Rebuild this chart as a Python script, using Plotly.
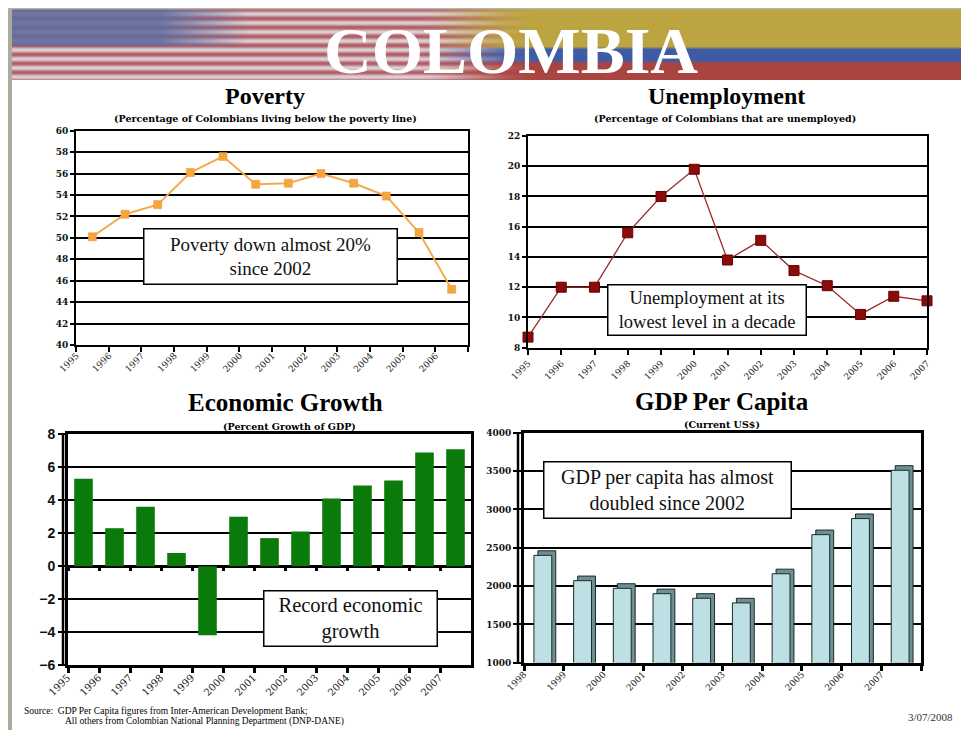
import base64, struct, zlib
import numpy as np
import plotly.graph_objects as go

# ---------------- data ----------------
poverty_years = [str(y) for y in range(1995, 2007)]
poverty_pct = [50.1, 52.2, 53.1, 56.1, 57.6, 55.0, 55.1, 56.0, 55.1, 53.9, 50.5, 45.2]

unemp_years = [str(y) for y in range(1995, 2008)]
unemp_pct = [8.7, 12.0, 12.0, 15.6, 18.0, 19.8, 13.8, 15.1, 13.1, 12.1, 10.2, 11.4, 11.1]

growth_years = [str(y) for y in range(1995, 2008)]
growth_pct = [5.3, 2.3, 3.6, 0.8, -4.2, 3.0, 1.7, 2.1, 4.1, 4.9, 5.2, 6.9, 7.1]

gdp_years = [str(y) for y in range(1998, 2008)]
gdp_usd = [2400, 2070, 1970, 1900, 1840, 1780, 2160, 2670, 2880, 3510]

# ---------------- page geometry helpers ----------------
# the page body has an 8px margin, so the figure is placed at (8, 8) in the window
OFF = 8
W, H = 969 - OFF, 730 - OFF
def px(x):
    return (x - OFF) / W
def py(y):
    return 1 - (y - OFF) / H

SERIF = "Liberation Serif, Times New Roman, serif"
TICKSERIF = "DejaVu Serif, serif"

# ---------------- banner image (decorative) ----------------
def png_uri(arr):
    h, w, _ = arr.shape
    raw = b"".join(b"\x00" + arr[i].tobytes() for i in range(h))
    def chunk(tag, data):
        c = struct.pack(">I", len(data)) + tag + data
        return c + struct.pack(">I", zlib.crc32(tag + data) & 0xffffffff)
    png = b"\x89PNG\r\n\x1a\n" + chunk(b"IHDR", struct.pack(">IIBBBBB", w, h, 8, 2, 0, 0, 0)) \
        + chunk(b"IDAT", zlib.compress(raw, 9)) + chunk(b"IEND", b"")
    return "data:image/png;base64," + base64.b64encode(png).decode()

BX0, BY0, BW, BH = 12, 9, 957, 71
Xs = np.arange(BW)[None, :].astype(float) + BX0
Ys = np.arange(BH)[:, None].astype(float) + BY0
red = np.array([179, 92, 100.0]); white = np.array([220, 210, 214.0]); cblue = np.array([96, 108, 158.0])
s = (0.5 + 0.5 * np.cos(2 * np.pi * (Ys - BY0) / 9.0))[..., None]
s = np.broadcast_to(s, (BH, BW, 1))
stripes = s * red + (1 - s) * white
cx = np.clip((250 - Xs) / 90, 0, 1)
cy = np.clip((47 - Ys) / 3, 0, 1)
c = (cx * cy)[..., None]
canton = 0.88 * cblue + 0.12 * stripes
us = c * canton + (1 - c) * stripes
yel = np.array([188, 164, 64.0]); cbl = np.array([62, 92, 166.0]); crd = np.array([170, 68, 64.0])
a1 = np.clip((Ys - 46) / 3, 0, 1)[..., None]
a2 = np.clip((Ys - 60) / 3, 0, 1)[..., None]
co = (1 - a1) * yel + a1 * ((1 - a2) * cbl + a2 * crd)
co = np.broadcast_to(co, (BH, BW, 3))
t = np.clip((Xs - 410) / 130, 0, 1)
t = (t * t * (3 - 2 * t))[..., None]
banner = np.ascontiguousarray(((1 - t) * us + t * co).clip(0, 255).astype(np.uint8))
banner_src = png_uri(banner)

# ---------------- figure ----------------
fig = go.Figure()

fig.add_trace(go.Scatter(
    x=poverty_years, y=poverty_pct, mode="lines+markers", xaxis="x", yaxis="y",
    line=dict(color="#F4AA50", width=2),
    marker=dict(symbol="square", size=8, color="#F8A53E", line=dict(color="#E8922A", width=0.5)),
    cliponaxis=False, hoverinfo="x+y"))

fig.add_trace(go.Scatter(
    x=unemp_years, y=unemp_pct, mode="lines+markers", xaxis="x2", yaxis="y2",
    line=dict(color="#9A2A2A", width=1.3),
    marker=dict(symbol="square", size=10, color="#8B0A0A", line=dict(color="#6A0000", width=1)),
    cliponaxis=False, hoverinfo="x+y"))

fig.add_trace(go.Bar(
    x=growth_years, y=growth_pct, xaxis="x3", yaxis="y3",
    marker=dict(color="#0A7A0A", line=dict(width=0)), width=0.6, hoverinfo="x+y"))
# invisible carrier so the zero-line tick axis knows the categories
fig.add_trace(go.Scatter(
    x=growth_years, y=growth_pct, xaxis="x5", yaxis="y3", mode="markers",
    marker=dict(opacity=0, size=1), hoverinfo="skip"))

DEPTH_SHIFT = 60  # 3-D look: back face drawn slightly up and to the right
fig.add_trace(go.Bar(
    x=gdp_years, y=gdp_usd, base=DEPTH_SHIFT, xaxis="x4", yaxis="y4",
    marker=dict(color="#6E9092", line=dict(color="#1E2A2A", width=1)),
    width=0.45, offset=-0.15, hoverinfo="skip"))
fig.add_trace(go.Bar(
    x=gdp_years, y=gdp_usd, xaxis="x4", yaxis="y4",
    marker=dict(color="#BCE0E3", line=dict(color="#1E2A2A", width=1)),
    width=0.45, offset=-0.25, hoverinfo="x+y"))

# domains (window pixels)
P_X = (76, 468); P_Y = (130.7, 345)
U_X = (528, 927); U_Y = (136, 347.7)
G_X = (68, 471); G_Y = (434.3, 665)
D_X = (524, 921); D_Y = (432.7, 662.7)

def xdom(a):
    return [px(a[0]), px(a[1])]
def ydom(a):
    return [py(a[1]), py(a[0])]

tick_small = dict(family=TICKSERIF, size=9, color="#222")
tick_small_b = dict(family=TICKSERIF, size=9, color="#111", weight="bold")

common_x = dict(showline=True, linecolor="black", mirror=True, ticks="outside",
                tickcolor="black", showgrid=False, zeroline=False, tickangle=-45,
                fixedrange=True, automargin=False)
common_y = dict(showline=True, linecolor="black", mirror=True, ticks="outside",
                tickcolor="black", showgrid=True, gridcolor="black", zeroline=False,
                fixedrange=True, automargin=False)

n_p = len(poverty_years); n_g = len(growth_years); n_d = len(gdp_years)

def half_cat(dom, n):
    return -int(round((dom[1] - dom[0]) / n / 2))

layout = dict(
    width=W, height=H, autosize=False,
    margin=dict(l=0, r=0, t=0, b=0, pad=0, autoexpand=False),
    paper_bgcolor="white", plot_bgcolor="white", showlegend=False, barmode="overlay",
    xaxis=dict(common_x, domain=xdom(P_X), anchor="y", type="category", range=[-0.5, n_p - 0.5],
               tickson="boundaries", linewidth=2, ticklen=5, tickwidth=2, tickfont=tick_small,
               ticklabelshift=half_cat(P_X, n_p)),
    yaxis=dict(common_y, domain=ydom(P_Y), anchor="x", range=[40, 60], dtick=2,
               gridwidth=1.6, linewidth=2, ticklen=4, tickwidth=1.5, tickfont=tick_small_b),
    xaxis2=dict(common_x, domain=xdom(U_X), anchor="y2", type="category", range=[0, len(unemp_years) - 1],
                linewidth=2, ticklen=5, tickwidth=2, tickfont=tick_small),
    yaxis2=dict(common_y, domain=ydom(U_Y), anchor="x2", range=[8, 22], dtick=2,
                gridwidth=1.6, linewidth=2, ticklen=4, tickwidth=1.5, tickfont=tick_small_b),
    xaxis3=dict(common_x, domain=xdom(G_X), anchor="y3", type="category", range=[-0.5, n_g - 0.5],
                tickson="boundaries", linewidth=3, ticklen=5, tickwidth=3,
                tickfont=dict(family=TICKSERIF, size=10, color="#222"),
                ticklabelshift=half_cat(G_X, n_g)),
    yaxis3=dict(common_y, domain=ydom(G_Y), anchor="x3", range=[-6, 8], dtick=2,
                gridwidth=2, linewidth=3, ticklen=7, tickwidth=2,
                zeroline=True, zerolinecolor="black", zerolinewidth=2.5,
                tickfont=dict(family="Liberation Sans, Arial, sans-serif", size=14, color="#111", weight="bold")),
    xaxis5=dict(overlaying="x3", anchor="free", type="category",
                position=py(G_Y[1]) + (0 - (-6)) / (8 - (-6)) * (py(G_Y[0]) - py(G_Y[1])),
                domain=xdom(G_X), range=[-0.5, n_g - 0.5], tickson="boundaries",
                showticklabels=False, ticks="outside", ticklen=4, tickwidth=3, tickcolor="black",
                showline=False, showgrid=False, zeroline=False, fixedrange=True, automargin=False),
    xaxis4=dict(common_x, domain=xdom(D_X), anchor="y4", type="category", range=[-0.5, n_d - 0.5],
                tickson="boundaries", linewidth=3, ticklen=5, tickwidth=2.5, tickfont=tick_small,
                ticklabelshift=half_cat(D_X, n_d)),
    yaxis4=dict(common_y, domain=ydom(D_Y), anchor="x4", range=[1000, 4000], dtick=500,
                gridwidth=2.2, linewidth=3, ticklen=8, tickwidth=2,
                tickfont=dict(family=TICKSERIF, size=9, color="#111", weight="bold")),
)
fig.update_layout(**layout)

# decorative shapes: page border bar, top rule, double axis lines
shapes = [
    dict(type="rect", xref="paper", yref="paper", x0=px(8), x1=px(12), y0=0, y1=py(7),
         fillcolor="#ABAB9C", line=dict(width=0), layer="below"),
    dict(type="line", xref="paper", yref="paper", x0=px(8), x1=1, y0=py(8.5), y1=py(8.5),
         line=dict(color="#B4B4A6", width=2), layer="below"),
    dict(type="line", xref="paper", yref="paper", x0=px(G_X[0] - 5), x1=px(G_X[0] - 5),
         y0=py(G_Y[1]), y1=py(G_Y[0]), line=dict(color="black", width=2.5)),
    dict(type="line", xref="paper", yref="paper", x0=px(D_X[0] - 6), x1=px(D_X[0] - 6),
         y0=py(D_Y[1]), y1=py(D_Y[0]), line=dict(color="black", width=2.5)),
]
fig.update_layout(shapes=shapes)

fig.update_layout(images=[dict(source=banner_src, xref="paper", yref="paper",
                               x=px(BX0), y=py(BY0), sizex=BW / W, sizey=BH / H,
                               xanchor="left", yanchor="top", sizing="stretch", layer="below")])

def txt(text, x, y, size, family=SERIF, weight="normal", color="black", xanchor="center", yanchor="middle"):
    return dict(text=text, x=px(x), y=py(y), xref="paper", yref="paper", showarrow=False,
                xanchor=xanchor, yanchor=yanchor,
                font=dict(family=family, size=size, color=color, weight=weight))

def box(text, x0, y0, x1, y1, size):
    return dict(text=text, x=px((x0 + x1) / 2), y=py((y0 + y1) / 2), xref="paper", yref="paper",
                showarrow=False, xanchor="center", yanchor="middle", align="center",
                width=x1 - x0 - 4, height=y1 - y0 - 4, borderpad=0, borderwidth=1.5,
                bordercolor="black", bgcolor="white",
                font=dict(family=SERIF, size=size, color="#111"))

annotations = [
    txt("COLOMBIA", 511, 51, 66, weight="bold", color="white"),
    txt("Poverty", 265, 96, 24, weight="bold"),
    txt("(Percentage of Colombians living below the poverty line)", 265, 119, 9.5, family=TICKSERIF, weight="bold"),
    txt("Unemployment", 726, 96, 24, weight="bold"),
    txt("(Percentage of Colombians that are unemployed)", 725, 119, 9.5, family=TICKSERIF, weight="bold"),
    txt("Economic Growth", 285, 402, 25, weight="bold"),
    txt("(Percent Growth of GDP)", 289, 426, 9.5, family=TICKSERIF, weight="bold"),
    txt("GDP Per Capita", 722, 401, 25, weight="bold"),
    txt("(Current US$)", 722, 424, 9.5, family=TICKSERIF, weight="bold"),
    box("Poverty down almost 20%<br>since 2002", 142, 228, 398, 286, 19),
    box("Unemployment at its<br>lowest level in a decade", 606, 284, 807, 337, 18.5),
    box("Record economic<br>growth", 262, 589, 438, 647, 20.5),
    box("GDP per capita has almost<br>doubled since 2002", 542, 460, 792, 519, 20),
    txt("Source:  GDP Per Capita figures from Inter-American Development Bank;", 22, 711, 9.5, xanchor="left"),
    txt("All others from Colombian National Planning Department (DNP-DANE)", 63, 721, 9.5, xanchor="left"),
    txt("3/07/2008", 930, 717, 11, color="#333"),
]
fig.update_layout(annotations=annotations)

fig.write_html("out.html")
